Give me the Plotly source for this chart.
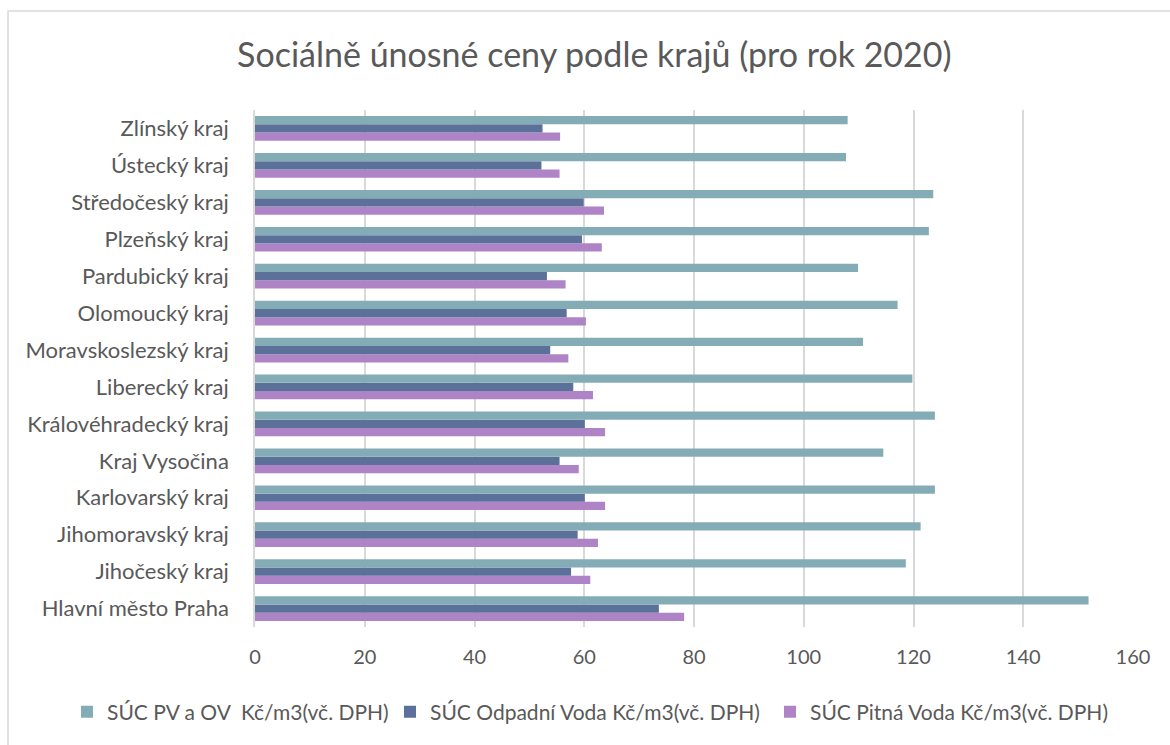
import plotly.graph_objects as go

categories = ["Hlavní město Praha", "Jihočeský kraj", "Jihomoravský kraj", "Karlovarský kraj",
              "Kraj Vysočina", "Královéhradecký kraj", "Liberecký kraj", "Moravskoslezský kraj",
              "Olomoucký kraj", "Pardubický kraj", "Plzeňský kraj", "Středočeský kraj",
              "Ústecký kraj", "Zlínský kraj"]

suc_pv_ov = [151.9, 118.6, 121.3, 123.9, 114.5, 123.9, 119.8, 110.8, 117.1, 109.9, 122.8, 123.6, 107.7, 108.0]
suc_odpadni = [73.6, 57.6, 58.8, 60.1, 55.5, 60.1, 58.0, 53.8, 56.8, 53.2, 59.6, 59.9, 52.2, 52.4]
suc_pitna = [78.2, 61.1, 62.5, 63.8, 59.0, 63.8, 61.6, 57.1, 60.3, 56.6, 63.2, 63.6, 55.5, 55.6]

names = ["SÚC PV a OV  Kč/m3(vč. DPH)", "SÚC Odpadní Voda Kč/m3(vč. DPH)", "SÚC Pitná Voda Kč/m3(vč. DPH)"]
colors = ["#84ACB6", "#5C7199", "#AE84C6"]

FONT = "Lato"
TXT = "#595959"

fig = go.Figure()
# add in reverse so first series sits on top of each group
for vals, name, col, lg in [(suc_pitna, names[2], colors[2], "legend3"),
                            (suc_odpadni, names[1], colors[1], "legend2"),
                            (suc_pv_ov, names[0], colors[0], "legend")]:
    fig.add_trace(go.Bar(y=categories, x=vals, name=name, orientation="h", legend=lg,
                         showlegend=True,
                         marker=dict(color=col, line=dict(width=0))))

L, R, T, B = 255, 37, 110, 118
PW, PH = 1170 - L - R, 745 - T - B


def px_x(px):
    return (px - L) / PW


def px_y(py):
    return (745 - B - py) / PH


leg_common = dict(orientation="h", yanchor="middle", xanchor="left", y=px_y(712),
                  font=dict(family=FONT, size=21, color=TXT), bgcolor="rgba(0,0,0,0)",
                  itemwidth=30, visible=True)

fig.update_layout(
    width=1170, height=745,
    showlegend=True,
    barmode="group", bargap=0.33, bargroupgap=0,
    paper_bgcolor="white", plot_bgcolor="white",
    margin=dict(l=L, r=R, t=T, b=B, autoexpand=False),
    font=dict(family=FONT, color=TXT, size=18),
    title=dict(text="Sociálně únosné ceny podle krajů (pro rok 2020)",
               x=0.508, xref="container", xanchor="center",
               y=1 - 55 / 745, yref="container", yanchor="middle",
               font=dict(family=FONT, size=34, color=TXT)),
    legend=dict(x=px_x(104 - 37), **leg_common),
    legend2=dict(x=px_x(427 - 37), **leg_common),
    legend3=dict(x=px_x(807 - 37), **leg_common),
    xaxis=dict(range=[0, 160], dtick=20, tick0=0,
               showgrid=True, gridcolor="#D9D9D9", gridwidth=1.5,
               zeroline=False, showline=False,
               ticks="outside", ticklen=12, tickcolor="rgba(0,0,0,0)",
               tickfont=dict(family=FONT, size=20, color=TXT)),
    yaxis=dict(type="category", categoryorder="array", categoryarray=categories,
               showgrid=False, zeroline=False,
               showline=True, linecolor="#D9D9D9", linewidth=1.5,
               ticks="", ticklabelstandoff=20,
               tickfont=dict(family=FONT, size=22, color=TXT)),
    shapes=[dict(type="rect", xref="paper", yref="paper",
                 x0=px_x(8), x1=1.2, y0=-0.4, y1=px_y(11),
                 line=dict(color="#D9D9D9", width=1.5), layer="below")],
)

fig.write_html("out.html", config={"displayModeBar": False},
               post_script="document.body.style.margin='0';document.body.style.overflow='hidden';")
